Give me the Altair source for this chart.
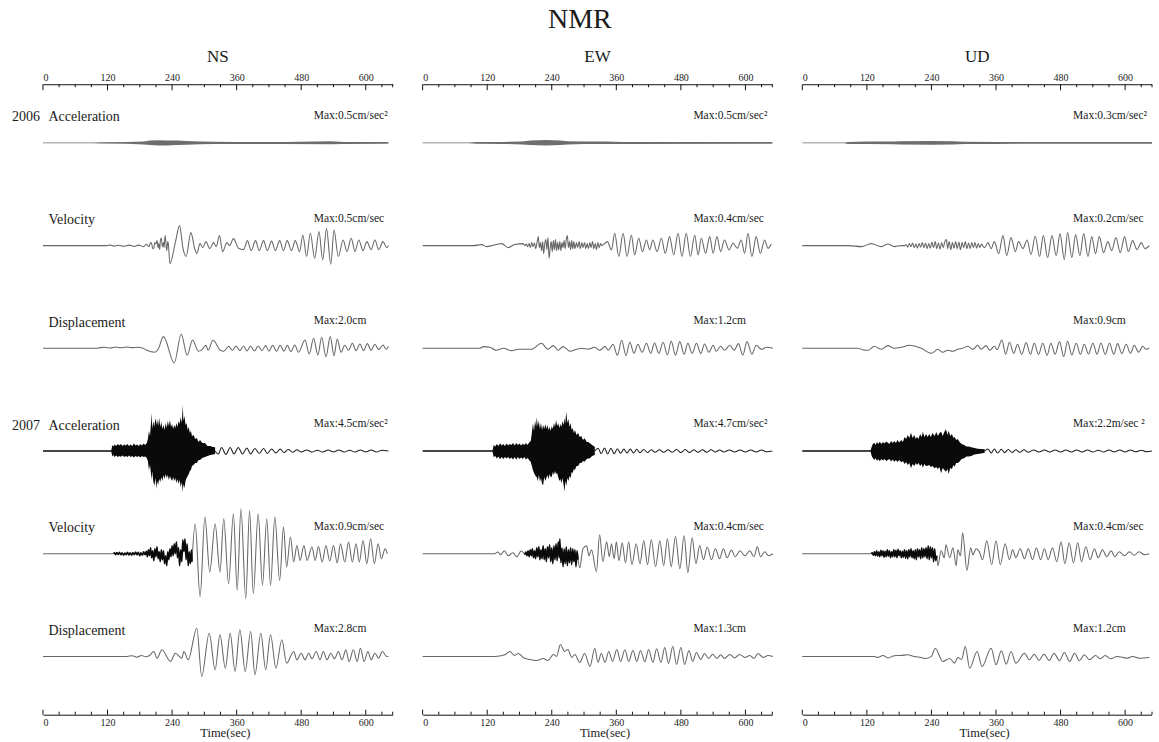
import altair as alt
import pandas as pd

# ---------------------------------------------------------------- layout
PLOT_W = 350          # width of one component panel (px)
PLOT_H = 631          # height of one component panel (px)
T_END = 650           # seconds shown on the time axis
FIRST_ROW = 58.7      # panel top -> first trace baseline (px)
ROW_GAP = 102.8       # distance between trace baselines (px)
SERIF = "Liberation Serif"

COMPONENTS = ["NS", "EW", "UD"]
ROW_NAMES = ["Acceleration", "Velocity", "Displacement",
             "Acceleration", "Velocity", "Displacement"]
YEAR_ROWS = [0, 3]
YEARS = ["2006", "2007"]

MAJOR_TICKS = [0, 120, 240, 360, 480, 600]
MINOR_TICKS = [30, 60, 90, 150, 180, 210, 270, 300, 330, 390, 420, 450,
               510, 540, 570, 630, 650]

MAX_NS = ["Max:0.5cm/sec²", "Max:0.5cm/sec", "Max:2.0cm",
          "Max:4.5cm/sec²", "Max:0.9cm/sec", "Max:2.8cm"]
MAX_EW = ["Max:0.5cm/sec²", "Max:0.4cm/sec", "Max:1.2cm",
          "Max:4.7cm/sec²", "Max:0.4cm/sec", "Max:1.3cm"]
MAX_UD = ["Max:0.3cm/sec²", "Max:0.2cm/sec", "Max:0.9cm",
          "Max:2.2m/sec ²", "Max:0.4cm/sec", "Max:1.2cm"]

# ------------------------------------------------------------ waveforms
# *_BAND : envelope of a dense high-frequency burst, (time s, upper, lower)
# *_DENSE: strong high-frequency wiggles drawn as a heavy line, (time s, amplitude)
# others : oscillations, (time s, amplitude); None starts a new stretch of line
# amplitudes are in plot units

NS_06_ACC_BAND = [(0, 0.3, -0.3), (94, 0.4, -0.4), (106, 0.7, -0.7), (156, 0.9, -0.8),
                  (187, 1.5, -1.5), (199, 2.3, -2.2), (215, 2.7, -2.5), (230, 2.5, -2.6),
                  (249, 2.3, -2.0), (267, 2.0, -1.8), (292, 1.5, -1.4), (317, 1.2, -1.1),
                  (354, 1.0, -1.0), (450, 1.0, -1.0), (534, 1.6, -1.3), (560, 1.0, -1.0),
                  (642, 0.8, -0.8)]

NS_06_VEL = [(0, 0), (119, 0), (125, 0.5), (132, -0.5), (140, 0.3), (150, -0.7), (160, 0.5),
             (170, -0.8), (178, 0.5), (187, -1), (192, 1.3), (197, -1), (200, 3), (202, 2),
             (204, -3), (206, -2.5), (208, 3), (210, 1.7), (212, 5), (214, -2), (215, 2),
             (217, -4), (218, 4), (220, 7.7), (222, -1), (224, 3), (225, -2), (227, 10),
             (229, 0), (230, -5), (232, 4), (233, 2), (236, -18), (246, 3), (254, 20), (260, -2),
             (266, -11), (275, 13), (282, -3), (286, -8), (292, 2), (297, -2), (303, 4),
             (310, -3), (317, 3), (322, -1), (328, 10), (334, -6), (342, 3), (347, 0), (354, 7),
             (364, -3), (373, -4), (380, 5), (387, -5), (395, 5), (402, -5), (410, 5), (417, -5),
             (425, 4.5), (432, -5), (440, 5), (447, -5), (454, 5), (462, -5), (469, 5),
             (477, -6), (483, 10.7), (490, -11), (497, 12.3), (505, -12.7), (513, 14),
             (520, -14.3), (527, 17), (535, -18.7), (541, 15.7), (549, -11), (558, 5.7),
             (565, -6), (573, 7.3), (580, -6), (587, 5.7), (595, -5), (602, 4), (610, -4),
             (617, 5.7), (624, -4), (632, 4), (639, -2), (642, 0)]

NS_06_DIS = [(0, 0), (100, 0), (106, 0.7), (115, 1), (125, 0.3), (135, 1.3), (145, 0.5),
             (155, 1.3), (165, 0.7), (175, 1), (186, 0), (193, -2), (208, -4), (214, -1),
             (224, 11.7), (244, -14.7), (257, 14.3), (268, -7), (278, 8.3), (289, -3), (296, -1),
             (303, 3), (307, -2), (316, 8), (330, -2), (336, -3), (345, 2), (352, -2), (359, 2.3),
             (366, -2.3), (373, 2.3), (379, -2.7), (386, 2.3), (393, -2.7), (400, 2.3), (407, -2.3),
             (414, 2.7), (420, -2.7), (427, 3), (434, -3), (441, 3), (448, -3), (454, 3),
             (461, -3.3), (468, 3.3), (475, -4), (487, 8.3), (495, -5.7), (503, 10), (511, -6.7),
             (518, 11), (526, -8.3), (534, 11.7), (541, -7.3), (547, 9.3), (554, -4), (561, 3),
             (568, -2), (575, 5), (582, -2.3), (589, 4.3), (596, -2.3), (603, 4.7), (610, -2),
             (617, 4), (624, -1.3), (632, 3.3), (638, -1), (642, 2)]

NS_07_ACC_BAND = [(0, 0.7, -0.7), (127, 0.7, -0.7), (129, 6, -5.5), (131, 4.5, -4), (133, 6.5, -6),
                  (136, 5, -4.5), (139, 7, -6), (142, 5.5, -5), (145, 7, -5.7), (148, 5, -4.5),
                  (151, 6.5, -6), (154, 5.5, -5), (157, 7, -6), (160, 5, -4.5), (163, 6.5, -6),
                  (166, 5, -5), (169, 7.5, -6.5), (172, 5.5, -5), (175, 6.5, -6), (178, 5, -5),
                  (181, 7, -6.5), (184, 5.5, -5), (187, 7.5, -6), (190, 6, -5.5), (193, 8, -7),
                  (195, 12, -10), (197, 20, -19), (199, 15, -14), (201, 30, -24), (202, 38, -29),
                  (203, 22, -20), (205, 30, -30), (207, 24, -35), (209, 33, -27), (211, 26, -38),
                  (212, 32, -30), (214, 25, -34), (216, 33, -28), (218, 24, -31), (220, 29, -26),
                  (222, 22, -30), (224, 26, -24), (226, 21, -28), (228, 28, -23), (230, 23, -27),
                  (232, 30, -24), (234, 25, -29), (236, 31, -25), (238, 24, -28), (240, 27, -30),
                  (242, 22, -26), (244, 26, -30), (246, 23, -27), (248, 28, -32), (250, 24, -28),
                  (252, 30, -33), (254, 27, -29), (256, 34, -36), (258, 28, -31), (260, 46, -41),
                  (261, 30, -33), (263, 35, -37), (265, 26, -30), (267, 28, -27), (269, 21, -25),
                  (271, 24, -23), (273, 18, -20), (275, 20, -19), (277, 15, -15), (280, 16, -14),
                  (283, 12, -12), (286, 13, -12), (289, 9, -9), (292, 11, -9), (296, 8, -7),
                  (301, 8, -6), (306, 5, -5), (311, 5, -4), (316, 4, -3.5), (320, 3.7, -3)]
NS_07_ACC = [(320, 0), (326, -3), (332, 3.5), (340, -3.5), (348, 3.5), (355, -3), (363, 3.5),
             (371, -3), (379, 3), (386, -3), (394, 2.5), (402, -2.5), (410, 2.5), (417, -2.5),
             (425, 2), (433, -2), (441, 2), (448, -1.5), (456, 1.5), (464, -1.2), (472, 1.2),
             (480, -1), (490, 1), (500, -1), (510, 0.8), (520, -1), (530, 1), (540, -0.8),
             (550, 1), (560, -1), (570, 0.8), (580, -1), (590, 1), (600, -0.8), (610, 1),
             (620, -1), (630, 0.8), (642, 0)]

NS_07_VEL_DENSE = [(131, 0), (133, 1), (135, -1), (137, 1.2), (140, -0.8), (142, 1.5), (145, -1),
                   (147, 1), (150, -1.5), (152, 0.8), (155, -1), (157, 1.5), (160, -1.2), (162, 1),
                   (165, -1.5), (167, 1.2), (170, -1), (172, 1.8), (175, -1), (177, 1.5),
                   (180, -2), (182, 1), (185, -1.5), (187, 2), (190, -1), (192, 2.5), (194, -3),
                   (196, 4), (198, -2), (200, 6), (202, -4), (204, 3), (206, -7), (208, 5),
                   (210, -3), (212, 7), (214, -5), (216, 2), (218, -8), (220, 4), (222, -6),
                   (224, 3), (226, -10), (228, -2), (230, -12), (232, 2), (234, -6), (236, 5),
                   (238, -3), (240, 8), (242, -2), (244, 10), (246, 0), (248, 12), (250, -4),
                   (252, 6), (254, -12), (256, 4), (258, -8), (260, 14), (262, 2), (264, 15),
                   (266, -6), (268, 10), (270, -12), (272, 2), (274, -10), (276, 4), (277, -8)]
NS_07_VEL = [(0, 0), (131, 0), None, (277, -8), (283, 30), (292, -43), (301, 36.7),
             (310, -18.3), (320, 30), (329, -18.3), (336, 35), (345, -30), (354, 40),
             (361, -36.7), (368, 45), (377, -45), (384, 43.3), (391, -40), (400, 40),
             (408, -31.7), (416, 35), (423, -31.7), (431, 36.7), (440, -26.7), (447, 26.7),
             (453, -13.3), (460, 16.7), (466, -8.3), (472, 8.3), (478, -6.7), (485, 8.3),
             (491, -6.7), (500, 6.7), (506, -6.7), (512, 7.3), (519, -8.3), (526, 8.3),
             (533, -7.3), (540, 8.3), (547, -9.3), (553, 10), (561, -8.3), (568, 11.7),
             (575, -8.3), (582, 10), (588, -8.3), (595, 13.3), (602, -10), (609, 15), (616, -10),
             (623, 10), (629, -5), (636, 5), (640, 0)]

NS_07_DIS = [(0, 0), (156, 0), (166, 0.7), (175, -0.7), (183, 1), (191, -0.3), (198, 1),
             (206, 5), (212, -1.7), (221, 6.7), (237, -5), (246, 3.3), (258, -1.7), (262, 5),
             (270, -3.3), (286, 28.3), (295, -20), (309, 23.3), (320, -13.3), (329, 21.7),
             (339, -11.7), (348, 23.3), (357, -15), (366, 26.7), (376, -15), (386, 25),
             (394, -18.3), (405, 23.3), (414, -13.3), (423, 21.7), (433, -11.7), (444, 16.7),
             (453, -6.7), (466, 5), (472, -3.3), (480, 3.3), (487, -3.3), (494, 3.3), (500, -2.3),
             (508, 5), (515, -3.3), (521, 5), (528, -3.3), (535, 3.3), (542, -2.3), (549, 5),
             (556, -3.3), (563, 6.7), (569, -5), (577, 6.7), (584, -5), (590, 8.3), (597, -5),
             (604, 5), (610, -3.3), (617, 3.3), (624, -1.7), (631, 5), (639, 0), (642, 0)]

EW_06_ACC_BAND = [(0, 0.3, -0.3), (85, 0.4, -0.4), (100, 0.8, -0.8), (150, 1.0, -1.0),
                  (185, 1.5, -1.5), (200, 2.3, -2.2), (230, 2.8, -2.6), (255, 2.3, -2.2),
                  (270, 1.7, -1.6), (300, 1.3, -1.2), (340, 1.3, -1.2), (370, 1.0, -1.0),
                  (650, 0.8, -0.8)]

EW_06_VEL = [(0, 0), (94, 0), (110, 1), (119, -1), (147, 2), (159, -2), (171, 1), (187, 2),
             (190, 0), (193, 1.5), (195, -1), (198, 2), (200, -2), (203, 3), (205, -1),
             (208, 2.5), (210, -3), (213, 4), (215, 9), (217, -2), (219, 3), (221, -5), (223, 4),
             (225, -8), (227, 2), (229, 6), (231, -4), (233, 8), (235, -12.7), (237, -3),
             (239, 4), (241, -6), (243, 5), (245, -4), (247, 6), (249, -5), (251, 3), (253, -4),
             (255, 4), (257, -5), (259, 3), (261, -2), (263, 5), (265, -3), (267, 6), (269, 10),
             (271, -2), (273, 4), (275, -4), (277, 5), (279, -3), (281, 4), (283, -3), (286, 3),
             (288, -2), (291, 4), (293, -3), (296, 3), (298, -2), (301, 3), (303, -3), (306, 2),
             (308, -3), (311, 3), (313, -2), (316, 4), (318, -3), (321, 2), (323, -4), (326, 3),
             (328, -2), (331, 2), (333, 0), (343.5, 4), (351, -4.3), (357, 12.3),
             (364.6, -11), (372.6, 12.3), (380, -11), (388, 10.7), (394, -9.3), (401.7, 7.3),
             (408.5, -6), (416, 5.7), (422, -4.3), (428, 5.7), (435.8, -6), (443.8, 7.3),
             (451, -7.7), (459, 9), (466.7, -9.3), (474.8, 12.3), (482, -11), (490, 12.3),
             (497.7, -11), (505.7, 10.7), (512, -9.3), (518, 7.3), (526, -7.7), (533.6, 9),
             (540, -7.7), (547, 9), (554, -6), (561, 5.7), (569.5, -4.3), (577, 2.3),
             (585, -2.7), (592, 5.7), (598.6, -7.7), (604.8, 12.3), (612, -11), (620, 9),
             (627.7, -7.7), (635.7, 5.7), (641.9, -2.7), (648, 1.7)]

EW_06_DIS = [(0, 0), (106, 0), (113, 1.7), (125, 1), (137, -2), (150, 0), (165, -2.3),
             (178, -1), (202, -1), (221, 5), (233, -1), (243, 2.7), (252, -2), (261, 1.7),
             (274, -3), (286, -1), (295, 0), (308, -0.7), (320, 1), (329, -2), (339, 2),
             (345, -2), (354, 4), (362, -7), (370, 8), (378, -7.3), (385, 6), (393, -5), (400, 4),
             (408, -4), (416, 5), (424, -5), (431, 5.3), (439, -5), (447, 6), (455, -6.7),
             (462, 7.3), (470, -7), (478, 6.7), (486, -6), (493, 5), (501, -5), (509, 5),
             (517, -5.3), (524, 4.3), (532, -4), (540, 3), (546, -3), (554, 2), (561, -2),
             (571, 3), (579, -2), (587, 4.7), (595, -7), (603, 6.7), (612, -6), (620, 3),
             (630, -1), (639, 1), (651, 0)]

EW_07_ACC_BAND = [(0, 0.7, -0.7), (130, 0.7, -0.7), (132, 6, -6), (135, 4.5, -5), (138, 7, -7.5),
                  (141, 5, -5.5), (144, 7.7, -8.3), (147, 5.5, -6), (150, 7, -8), (153, 5, -6),
                  (156, 7.5, -7.5), (159, 5.5, -6), (162, 7, -8), (165, 6, -6.5), (168, 8, -8.5),
                  (171, 5.5, -6), (174, 8, -8.7), (177, 6, -6), (180, 7.5, -8), (183, 5.5, -6.5),
                  (186, 7.3, -8), (189, 6, -6), (192, 8, -8.5), (195, 6, -7), (198, 8.5, -9),
                  (201, 10, -11), (203, 18, -15), (205, 27.7, -19), (207, 20, -22), (209, 30, -24),
                  (211, 24, -26), (212, 34, -25.7), (214, 25, -30), (216, 30, -24),
                  (218, 22, -30.7), (220, 28, -27), (222, 21, -33), (224, 26, -34), (226, 22, -26),
                  (228, 27, -30), (230, 22, -27), (232, 26, -24), (234, 21, -28), (236, 24, -23),
                  (238, 20, -26), (240, 25, -25.7), (242, 22, -21), (244, 28, -24), (246, 24, -20),
                  (248, 31, -23), (250, 25, -22), (252, 28, -26), (254, 23, -30), (256, 27, -28),
                  (258, 24, -32.3), (260, 30, -27), (262, 26, -34), (264, 33, -40.7),
                  (265, 27, -30), (267, 39.3, -35), (269, 28, -27), (271, 32, -30), (273, 24, -25),
                  (275, 28, -27), (277, 21, -21), (279, 23, -22), (281, 18, -18), (283, 21, -19),
                  (286, 16, -15), (289, 18, -15), (292, 14, -12), (295, 15, -12), (298, 11, -10),
                  (301, 12.7, -10.7), (305, 9, -8), (308, 9, -7.5), (311, 7.7, -7.3),
                  (315, 6, -5), (320, 4.3, -4)]
EW_07_ACC = [(320, 0), (326, 2.7), (332, -2.7), (338, 3), (344, -3), (350, 2.7), (356, -2.7),
             (362, 2.3), (368, -2.3), (374, 2), (380, -2), (386, 2), (392, -2), (398, 1.7),
             (404, -1.7), (411, 1.5), (418, -1.5), (425, 1.3), (432, -1.3), (440, 1.3),
             (448, -1.3), (456, 1.2), (464, -1.2), (472, 1.5), (480, -1.5), (488, 1.5),
             (496, -1.5), (504, 1.3), (512, -1.3), (520, 1.3), (528, -1.2), (536, 1.2),
             (544, -1), (552, 1), (560, -1), (570, 1), (580, -1), (590, 1), (600, -1), (610, 1),
             (620, -1), (630, 1), (640, -0.8), (650, 0)]

EW_07_VEL_DENSE = [(190, -1), (192, 2), (194, -2), (196, 3), (198, -3), (200, 4), (202, -2),
                   (204, 5), (206, -4), (208, 3), (210, -5), (212, 6), (214, -3), (216, 7),
                   (218, -6), (220, 4), (222, -5), (224, 8), (226, -6), (228, 5), (230, -8),
                   (232, 7), (234, -4), (236, 9), (238, -8), (240, 6), (242, -10), (244, 8),
                   (246, -6), (248, 10), (250, -7), (252, 12), (254, -4), (255, 15), (257, -9),
                   (259, 6), (261, -13), (263, 5), (265, -10), (267, 7), (269, -12), (271, 4),
                   (273, -9), (275, 6), (277, -11), (279, 5), (281, -8), (283, 4), (285, -13),
                   (287, 3), (289, -6)]
EW_07_VEL = [(0, 0), (134, 0), (140, 1.7), (145, -1), (152, 3), (159, -2), (168, 1), (175, -3),
             (183, 2.7), (190, -1), None, (289, -6), (292, -14), (298, 5), (305, 8),
             (309, -2), (314, 4), (323, -18), (329, 19), (335, -8), (342, 12), (347, -3),
             (351, 10), (356, -5), (360, 12), (365, -7), (371, 11), (377, -9), (383, 12),
             (389, -11), (397, 10), (404, -10), (411, 13.3), (418, -11), (425, 14), (433, -13),
             (441, 13), (448, -12), (455, 15), (462, -13), (470, 17.3), (478, -15), (486, 18),
             (493, -19), (501, 16), (508, -10), (515, 8.3), (522, -6), (529, 6.7), (537, -6),
             (544, 5), (552, -5), (559, 5), (566, -4), (574, 3.7), (581, -3), (590, 3), (599, -2),
             (608, 3), (616, -3), (622, 7), (628, -3), (636, 2), (643, -2), (651, 0)]

EW_07_DIS = [(0, 0), (134, 0), (153, 1.7), (162, 5), (171, 1), (178, 3), (187, -1), (199, -3),
             (212, -4), (224, -2), (233, -4), (243, 2), (249, 0), (256, 12), (264, 5), (270, 7),
             (277, -1), (283, 2), (292, -6), (301, 3), (311, -10), (320, 8), (326, -6), (332, 3),
             (339, -6), (346, 5), (353, -5), (361, 7), (368, -5), (376, 6.7), (383, -5), (391, 6),
             (398, -5), (405, 6), (413, -5.3), (420, 7), (428, -6), (435, 7.7), (443, -6),
             (450, 9), (457, -7), (465, 10), (472, -8), (480, 9), (487, -8), (495, 6), (502, -5),
             (509, 4), (517, -3), (524, 3), (532, -2), (539, 2.3), (547, -2), (554, 1.7),
             (561, -2), (571, 2), (580, -1.5), (589, 2), (599, -1), (608, 1), (616, -2), (623, 3),
             (633, -1), (642, 1), (651, 0)]

UD_06_ACC_BAND = [(0, 0.3, -0.3), (78, 0.3, -0.3), (85, 1.0, -1.0), (120, 1.3, -1.2),
                  (170, 1.3, -1.3), (180, 1.7, -1.6), (240, 2.0, -1.8), (280, 1.7, -1.6),
                  (300, 1.2, -1.2), (360, 1.0, -1.0), (650, 0.8, -0.8)]

UD_06_VEL = [(0, 0), (85, 0), (110, -1), (128, 2), (147, -1), (159, 1.7), (171, -1), (184, 0),
             (190, 0), (193, 1), (196, -1.5), (199, 2), (202, -1), (205, 2.5), (208, -2),
             (211, 1.5), (214, -2.5), (217, 2), (220, -1.5), (223, 3), (226, -2), (229, 2.5),
             (232, -3), (235, 2), (238, -2.5), (241, 3.5), (244, -2), (247, 4), (250, -3),
             (253, 2.5), (256, -3.5), (259, 3), (262, -2), (265, 4), (268, 6), (270, -3),
             (273, 4), (276, -4), (279, 3), (282, -2.5), (285, 4), (288, -3), (291, 3.5),
             (294, -4), (297, 3), (300, -2), (303, 4), (306, -3), (309, 2.5), (312, -3),
             (315, 3), (318, -2), (321, 3), (324, -2.5), (327, 2), (330, -2), (333, 1.5),
             (335, 0), (339, -2), (345, 3), (351, -3), (357, 4), (365, -8), (373, 10),
             (380, -10), (388, 8), (396, -6), (402, 4), (410, -3), (418, 5.7), (425, -9),
             (433, 9.3), (441, -11), (448, 10), (456, -12), (464, 10), (472, -10), (479, 12),
             (487, -14), (493, 13), (501, -12), (508, 11), (516, -10), (523, 12), (531, -11),
             (538, 9), (545, -8), (552, 9), (560, -7), (568, 4), (575, -5), (583, 8), (591, -7),
             (599, 9), (606, -6), (614, 5), (622, -4), (630, 3), (637, -3), (645, 0)]

UD_06_DIS = [(0, 0), (103, 0), (110, -1), (122, -2), (134, 2), (147, -1), (159, 2.7), (171, 0),
             (184, 1), (199, 3), (221, 0), (240, -5), (252, -1), (261, -4), (270, -2), (280, -3),
             (289, -1), (298, 0), (308, 2), (317, -1), (326, 3), (332, -1), (342, 2.7), (348, -2),
             (357, 2), (362, -1.5), (371, 8.3), (378, -6), (385, 6), (393, -5), (400, 4),
             (408, -6), (416, 5.7), (424, -6), (431, 5), (439, -6), (447, 5), (455, -7),
             (462, 5), (470, -6), (478, 6.7), (486, -8.3), (493, 7), (501, -6.7), (509, 5),
             (517, -6), (524, 4), (532, -5.7), (540, 5), (548, -6), (555, 5.3), (563, -6),
             (571, 5), (579, -6), (586, 4.7), (594, -5.3), (602, 4), (610, -5), (617, 3),
             (625, -4), (633, 2), (639, -1), (645, 0)]

UD_07_ACC_BAND = [(0, 0.7, -0.7), (127, 0.7, -0.7), (129, 4.3, -5), (131, 7, -7), (134, 8.3, -9),
                  (136, 6, -7), (139, 9, -10), (141, 7, -8), (144, 9.3, -10.3), (147, 7, -8),
                  (150, 9, -9.5), (153, 7.5, -8), (156, 9.5, -10), (159, 8.3, -9), (162, 7, -8),
                  (165, 10, -10.5), (168, 8, -8.5), (171, 10, -10.7), (174, 8, -9), (177, 11, -11),
                  (180, 8.5, -9), (184, 11, -11.3), (187, 9, -10), (190, 14, -13), (193, 12, -11),
                  (196, 16, -14), (199, 13, -12), (202, 18.3, -17.3), (205, 13, -13),
                  (208, 16, -15), (211, 12, -12), (213, 14.3, -14), (216, 12, -12), (219, 17, -15),
                  (222, 14, -13), (224, 19.3, -16.7), (227, 14, -13), (230, 17, -15),
                  (233, 14, -14.7), (236, 17, -14), (239, 14, -16), (242, 18, -15),
                  (246, 15, -17.3), (249, 19, -16), (252, 15, -18), (255, 18, -16),
                  (258, 19.3, -22.3), (261, 15, -17), (264, 19, -19), (267, 21.7, -20.7),
                  (270, 16, -18), (272, 20.3, -23), (275, 15, -17), (278, 17, -18), (281, 13, -14),
                  (283, 14.3, -15.7), (286, 11, -12), (289, 12, -12), (292, 9.3, -10.7),
                  (296, 7, -8), (301, 6, -7.3), (305, 4.5, -5.5), (309, 4.5, -5.5), (314, 3.7, -5),
                  (320, 3, -3.5), (326, 2.3, -3), (332, 2, -2.5), (339, 1.7, -1.7)]
UD_07_ACC = [(339, 0), (345, 2), (351, -2), (357, 2), (363, -2), (370, 1.7), (376, -1.7),
             (383, 1.5), (390, -1.5), (397, 1.3), (404, -1.3), (412, 1.2), (420, -1.2),
             (430, 1), (440, -1), (450, 1), (460, -1), (470, 1), (480, -1), (490, 1), (500, -1),
             (510, 1), (520, -1), (530, 1), (540, -1), (550, 0.8), (560, -1), (570, 1),
             (580, -0.8), (590, 1), (600, -1), (610, 1), (620, -0.8), (630, 0.8), (640, -0.8),
             (650, 0)]

UD_07_VEL_DENSE = [(128, 0), (130, 1), (132, -1.5), (134, 2), (136, -2), (138, 3), (140, -2.5),
                   (142, 2), (144, -3), (146, 3.5), (148, -2), (150, 3), (152, -3.5), (154, 2.5),
                   (156, -3), (158, 4), (160, -2.5), (162, 3), (164, -4), (166, 2), (168, -3),
                   (170, 4), (172, -3), (174, 3.5), (176, -4), (178, 4.5), (180, -2), (182, 3),
                   (184, -4), (186, 2.5), (188, -3.5), (190, 4), (192, -4.5), (194, 3), (196, -5),
                   (198, 4), (200, -3), (202, 5), (204, -4), (206, 3), (208, -5), (210, 4),
                   (212, -6), (214, 5), (216, -3), (218, 4), (220, -5), (222, 6), (224, -4),
                   (226, 5), (228, -3), (230, 6), (232, -5), (234, 8), (236, -6), (238, 7),
                   (240, -4), (242, 6), (244, -8), (246, 5), (248, -7), (250, -2)]
UD_07_VEL = [(0, 0), (128, 0), None, (250, -2), (252, -12), (258, 3), (264, -4), (267, 9),
             (274, -4), (280, 6), (286, -12), (289, 4), (294, -2), (298, 21), (306, -16.7),
             (313, 6), (317, -1), (323, 5), (329, 2), (335, -6), (343, 13), (352, -11), (360, 13),
             (368, -11), (377, 10), (385, -6), (391, 4), (397, -4), (405, 5), (413, -5), (420, 5),
             (428, -6), (435, 6), (443, -6), (450, 5), (457, -6), (465, 6), (473, -8), (481, 12),
             (488, -10), (496, 11), (504, -9), (512, 11), (519, -8), (527, 7), (535, -6),
             (543, 5), (550, -4), (558, 4), (566, -3), (574, 3), (581, -3), (589, 2), (599, -2),
             (608, 2), (617, -1.5), (626, 2), (636, -1), (645, 0)]

UD_07_DIS = [(0, 0), (134, 0), (140, -1), (150, 1), (159, -1.5), (171, 0.7), (184, 1),
             (196, 1.7), (208, 0), (221, -1), (230, -2), (240, 0), (247, 8.3), (261, -5),
             (274, -2), (283, -6.7), (289, -1), (296, -3), (303, 10), (311, -11.7), (325, 5),
             (334, -10), (351, 8.3), (360, -8.3), (370, 5.7), (379, -7.7), (388, 5), (397, -6.7),
             (413, 3.3), (422, -3.3), (431, 2.3), (440, -4), (449, 2.3), (459, -4), (468, 3.3),
             (478, -4.3), (487, 4), (497, -5), (506, 3.3), (515, -4.3), (524, 1.7), (534, -3.3),
             (545, 1), (554, -2.3), (563, 1), (573, -2.3), (585, 0), (604, -1.7), (614, 0),
             (626, -1.7), (645, -1)]

# (envelope, oscillation, heavy wiggles) for each of the six rows of a component
TRACES = {
    "NS": [(NS_06_ACC_BAND, None, None), (None, NS_06_VEL, None), (None, NS_06_DIS, None),
           (NS_07_ACC_BAND, NS_07_ACC, None), (None, NS_07_VEL, NS_07_VEL_DENSE),
           (None, NS_07_DIS, None)],
    "EW": [(EW_06_ACC_BAND, None, None), (None, EW_06_VEL, None), (None, EW_06_DIS, None),
           (EW_07_ACC_BAND, EW_07_ACC, None), (None, EW_07_VEL, EW_07_VEL_DENSE),
           (None, EW_07_DIS, None)],
    "UD": [(UD_06_ACC_BAND, None, None), (None, UD_06_VEL, None), (None, UD_06_DIS, None),
           (UD_07_ACC_BAND, UD_07_ACC, None), (None, UD_07_VEL, UD_07_VEL_DENSE),
           (None, UD_07_DIS, None)],
}
MAX_TEXT = {"NS": MAX_NS, "EW": MAX_EW, "UD": MAX_UD}


def level(k):
    """Baseline of row k, measured upward from the panel bottom."""
    return PLOT_H - (FIRST_ROW + ROW_GAP * k)


x_scale = alt.Scale(domain=[0, T_END], nice=False, zero=False)
y_scale = alt.Scale(domain=[0, PLOT_H], nice=False, zero=False)

axis_style = dict(values=MAJOR_TICKS, ticks=False, tickSize=0, grid=False,
                  domainColor="#111111", domainWidth=1, labelFont=SERIF,
                  labelFontSize=10, labelColor="#222222")


def panel(ci, comp):
    band_rows, line_rows = [], []
    for k, (band, wave, dense) in enumerate(TRACES[comp]):
        base = level(k)
        old = k < 3
        if band:
            for t, up, lo in band:
                band_rows.append({"trace": k, "t": t, "top": base + up, "bot": base + lo,
                                  "fill": "#3c3c3c" if old else "#0a0a0a",
                                  "alpha": 0.75 if old else 1.0})
        if wave:
            part = 0
            for pt in wave:
                if pt is None:
                    part += 1
                    continue
                t, v = pt
                line_rows.append({"key": f"{k}w{part}", "t": t, "y": base + v,
                                  "ink": "#1e1e1e" if k == 3 else "#666666", "w": 1.05})
        if dense:
            for t, v in dense:
                line_rows.append({"key": f"{k}d", "t": t, "y": base + v,
                                  "ink": "#0a0a0a", "w": 1.6})
    bands = pd.DataFrame(band_rows)
    lines = pd.DataFrame(line_rows)

    layers = []

    # blank margins that fix the outer edges of the figure
    if ci == 0:
        layers.append(alt.Chart(pd.DataFrame({"m": [0]})).mark_rect(color="white").encode(
            x=alt.value(-42.7), x2=alt.value(0), y=alt.value(-84), y2=alt.value(PLOT_H + 27)))
    if ci == 2:
        layers.append(alt.Chart(pd.DataFrame({"m": [0]})).mark_rect(color="white").encode(
            x=alt.value(PLOT_W), x2=alt.value(PLOT_W + 6.3), y=alt.value(-84),
            y2=alt.value(PLOT_H + 27)))

    layers.append(alt.Chart(bands).mark_area(interpolate="linear").encode(
        x=alt.X("t:Q", scale=x_scale, axis=None),
        y=alt.Y("top:Q", scale=y_scale, axis=None),
        y2="bot:Q",
        fill=alt.Fill("fill:N", scale=None),
        opacity=alt.Opacity("alpha:Q", scale=None),
        detail="trace:N",
    ))

    layers.append(alt.Chart(lines).mark_line(interpolate="monotone").encode(
        x=alt.X("t:Q", scale=x_scale,
                axis=alt.Axis(orient="bottom", labelPadding=3, title="Time(sec)",
                              titleFont=SERIF, titleFontSize=12.5, titleFontWeight="normal",
                              titleColor="#222222", titleX=182, titleY=18,
                              titleBaseline="middle", titleAlign="center", **axis_style)),
        y=alt.Y("y:Q", scale=y_scale, axis=None),
        color=alt.Color("ink:N", scale=None),
        strokeWidth=alt.StrokeWidth("w:Q", scale=None),
        detail="key:N",
    ))

    # tick marks point inward from both time axes
    major = pd.DataFrame({"t": MAJOR_TICKS})
    minor = pd.DataFrame({"t": MINOR_TICKS})
    layers.append(alt.Chart(major).mark_rule(color="#111111", strokeWidth=1).encode(
        x=alt.X("t:Q", scale=x_scale,
                axis=alt.Axis(orient="top", labelPadding=2, title=None, **axis_style)),
        y=alt.value(0), y2=alt.value(6)))
    layers.append(alt.Chart(minor).mark_rule(color="#111111", strokeWidth=1).encode(
        x=alt.X("t:Q", scale=x_scale, axis=None), y=alt.value(0), y2=alt.value(3)))
    layers.append(alt.Chart(major).mark_rule(color="#111111", strokeWidth=1).encode(
        x=alt.X("t:Q", scale=x_scale, axis=None),
        y=alt.value(PLOT_H), y2=alt.value(PLOT_H - 5)))
    layers.append(alt.Chart(minor).mark_rule(color="#111111", strokeWidth=1).encode(
        x=alt.X("t:Q", scale=x_scale, axis=None),
        y=alt.value(PLOT_H), y2=alt.value(PLOT_H - 3)))

    # maximum values
    max_df = pd.DataFrame({"y": [level(k) + 27 for k in range(6)], "label": MAX_TEXT[comp]})
    layers.append(alt.Chart(max_df).mark_text(
        align="left", baseline="middle", font=SERIF, fontSize=11.5, color="#1a1a1a").encode(
        x=alt.value(271), y=alt.Y("y:Q", scale=y_scale, axis=None), text="label:N"))

    # component heading
    layers.append(alt.Chart(pd.DataFrame({"label": [comp]})).mark_text(
        align="center", baseline="middle", font=SERIF, fontSize=17, color="#1a1a1a").encode(
        x=alt.value(PLOT_W / 2), y=alt.value(-27), text="label:N"))

    if ci == 0:
        name_df = pd.DataFrame({"y": [level(k) + 25.5 for k in range(6)], "label": ROW_NAMES})
        layers.append(alt.Chart(name_df).mark_text(
            align="left", baseline="middle", font=SERIF, fontSize=14, color="#1a1a1a").encode(
            x=alt.value(5.5), y=alt.Y("y:Q", scale=y_scale, axis=None), text="label:N"))
        year_df = pd.DataFrame({"y": [level(k) + 25.5 for k in YEAR_ROWS], "label": YEARS})
        layers.append(alt.Chart(year_df).mark_text(
            align="left", baseline="middle", font=SERIF, fontSize=14, color="#1a1a1a").encode(
            x=alt.value(-31), y=alt.Y("y:Q", scale=y_scale, axis=None), text="label:N"))

    if ci == 1:
        layers.append(alt.Chart(pd.DataFrame({"label": ["NMR"]})).mark_text(
            align="center", baseline="middle", font=SERIF, fontSize=28, color="#1a1a1a").encode(
            x=alt.value(157.3), y=alt.value(-64), text="label:N"))

    return alt.layer(*layers).resolve_axis(x="independent").properties(
        width=PLOT_W, height=PLOT_H)


panels = [panel(i, c) for i, c in enumerate(COMPONENTS)]
chart = alt.hconcat(*panels, spacing=30, bounds="flush").properties(
    padding=0).configure_view(stroke=None)

chart.save("out.html", embed_options={"renderer": "svg", "actions": False})
